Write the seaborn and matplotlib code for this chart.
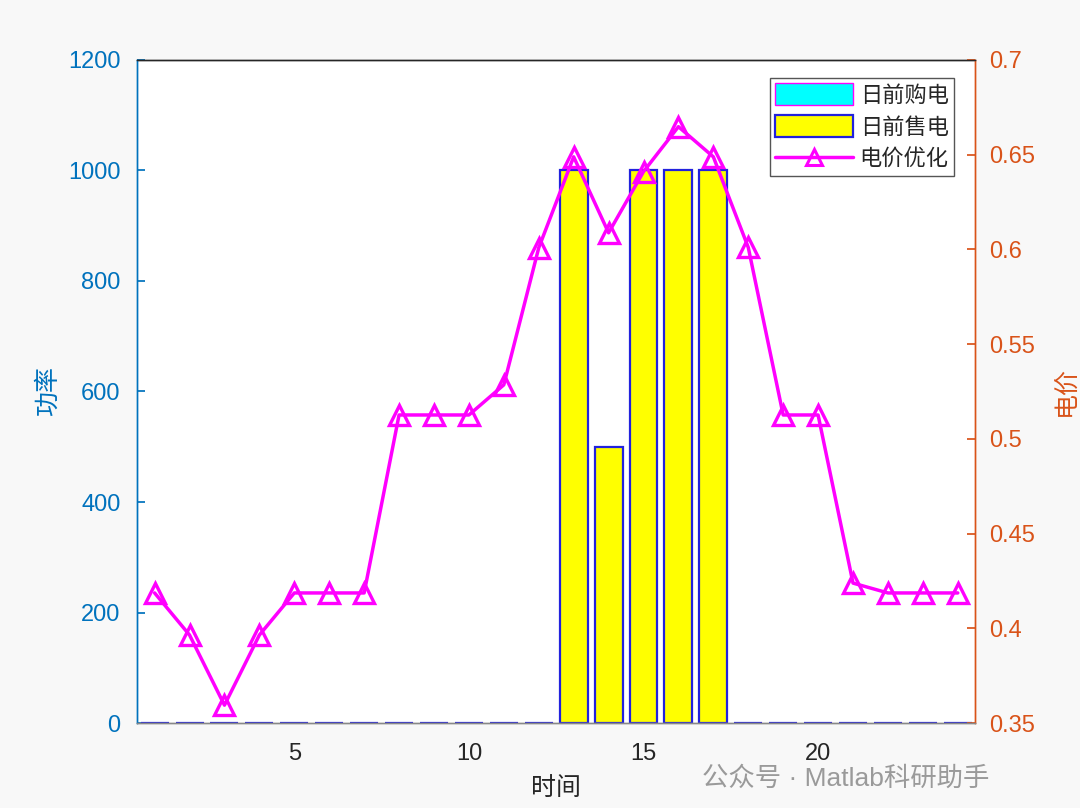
import seaborn as sns
import matplotlib.pyplot as plt
import pandas as pd
from matplotlib.lines import Line2D

hours = list(range(1, 25))
buy_power = [0] * 24
sell_power = [0, 0, 0, 0, 0, 0, 0, 0, 0, 0, 0, 0,
              1000, 500, 1000, 1000, 1000, 0, 0, 0, 0, 0, 0, 0]
price = [0.4187, 0.3965, 0.3595, 0.3965, 0.4187, 0.4187, 0.4187, 0.5126,
         0.5126, 0.5126, 0.5285, 0.6008, 0.6488, 0.6087, 0.6410, 0.6647,
         0.6488, 0.6010, 0.5126, 0.5126, 0.4239, 0.4187, 0.4187, 0.4187]
legend_labels = ['日前购电', '日前售电', '电价优化']

df = pd.DataFrame({'hour': hours, 'buy': buy_power, 'sell': sell_power, 'price': price})

sns.set_theme(style="white")
plt.rcParams['font.family'] = ['Liberation Sans', 'Noto Sans CJK SC']
plt.rcParams['axes.unicode_minus'] = False

blue = '#0072BD'
orange = '#D95319'
dark = '#262626'

fig = plt.figure(figsize=(10.8, 8.08), dpi=100, facecolor='#f8f8f8')
ax = fig.add_axes([0.127, 0.105, 0.776, 0.821])
ax.set_facecolor('white')

sns.barplot(data=df, x='hour', y='buy', native_scale=True, width=0.8,
            color='cyan', saturation=1, edgecolor='magenta', linewidth=1, ax=ax)
sns.barplot(data=df, x='hour', y='sell', native_scale=True, width=0.8,
            color='yellow', saturation=1, edgecolor='#2222dd', linewidth=1.6, ax=ax)

ax.set_xlim(0.5, 24.5)
ax.set_ylim(0, 1200)
ax.set_xticks([5, 10, 15, 20])
ax.set_yticks(range(0, 1201, 200))
ax.set_xlabel('时间', fontsize=18, color=dark, labelpad=8)
ax.set_ylabel('功率', fontsize=18, color=blue, labelpad=6)
ax.tick_params(axis='y', colors=blue, labelsize=17, direction='in', length=6, pad=12)
ax.tick_params(axis='x', colors=dark, labelsize=17, direction='in', length=6, pad=14)

ax2 = ax.twinx()
sns.lineplot(data=df, x='hour', y='price', color='magenta', linewidth=2.5,
             marker='^', markersize=14, markerfacecolor='none',
             markeredgecolor='magenta', markeredgewidth=2.4, ax=ax2)
ax2.set_ylim(0.35, 0.7)
ax2.set_yticks([0.35, 0.4, 0.45, 0.5, 0.55, 0.6, 0.65, 0.7])
ax2.set_yticklabels(['0.35', '0.4', '0.45', '0.5', '0.55', '0.6', '0.65', '0.7'])
ax2.set_ylabel('电价', fontsize=18, color=orange, labelpad=13)
ax2.tick_params(axis='y', colors=orange, labelsize=17, direction='in', length=6, pad=10)

for a in (ax, ax2):
    a.spines['left'].set_color(blue)
    a.spines['right'].set_color(orange)
    a.spines['top'].set_color(dark)
    a.spines['bottom'].set_color('#888888')
    for s in a.spines.values():
        s.set_linewidth(1)

handles = [ax.containers[0], ax.containers[1],
           Line2D([], [], color='magenta', linewidth=2.5, marker='^', markersize=12,
                  markerfacecolor='none', markeredgewidth=2.2)]
leg = ax2.legend(handles, legend_labels, loc='upper right', bbox_to_anchor=(0.975, 0.973),
                 fontsize=16, frameon=True, fancybox=False, framealpha=1,
                 edgecolor='#555555', handlelength=3.5, handleheight=1.1,
                 borderpad=0.25, labelspacing=0.4, handletextpad=0.3, borderaxespad=0)
leg.get_frame().set_linewidth(1)

fig.text(0.65, 0.036, '公众号 · Matlab科研助手', fontsize=19, color='#9a9a9a', va='center')

fig.savefig('out.png', dpi=100, facecolor=fig.get_facecolor())
